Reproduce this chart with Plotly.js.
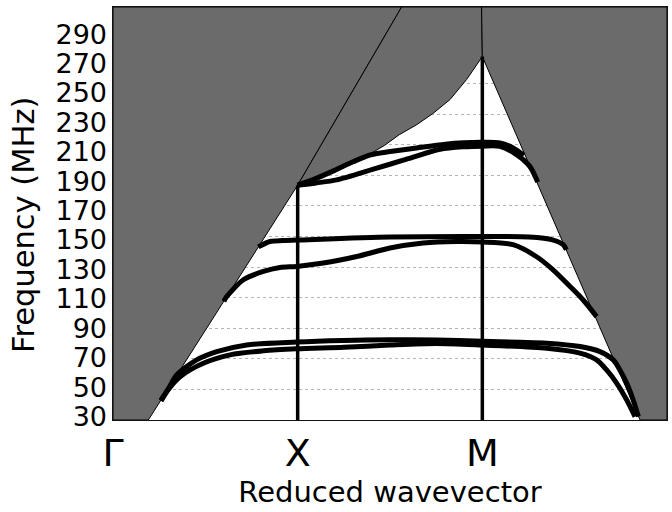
<!DOCTYPE html>
<html>
<head>
<meta charset="utf-8">
<script src="https://cdn.plot.ly/plotly-3.0.1.min.js"></script>
<style>
  html, body { margin: 0; padding: 0; background: #ffffff; }
  #chart { width: 672px; height: 512px; }
</style>
</head>
<body>
<div id="chart"></div>
<script>
// High-symmetry points along the path
const symLabels = ['\u0393', 'X', 'M', '\u0393'];
const symPos = [0, 1, 2, 3];
const symTopF = [183.5, 267.6];          // where the X and M markers meet the light cone

// Frequency tick labels (MHz)
const freqTicks = [30, 50, 70, 90, 110, 130, 150, 170, 190, 210, 230, 250, 270, 290];

// Light-cone regions (reduced wavevector, frequency)
const coneLeftK = [0, 0.191, 1.0, 1.563, 0, 0];
const coneLeftF = [30, 30, 183.5, 300, 300, 30];
const coneMidK = [1.0, 1.1, 1.2, 1.3, 1.39, 1.47, 1.55, 1.645, 1.734, 1.825, 1.915, 2.0, 1.996, 1.563, 1.0];
const coneMidF = [183.5, 188.3, 193.6, 199.2, 203.8, 209.5, 216.5, 223.1, 230.5, 239.5, 252.6, 267.6, 300, 300, 183.5];
const coneRightK = [2.0, 2.854, 3, 3, 1.996, 2.0];
const coneRightF = [267.6, 30, 30, 300, 300, 267.6];

// Guided bands
const bandAK = [0.26, 0.30, 0.345, 0.453, 0.562, 0.724, 0.995, 1.25, 1.5, 1.75, 2.0, 2.2, 2.349, 2.529, 2.637, 2.709, 2.745, 2.782, 2.817, 2.845];
const bandAF = [43, 50.5, 59.5, 69.3, 74.7, 79.1, 81.0, 82.0, 82.5, 82.3, 81.5, 80.8, 80.2, 78.0, 74.7, 69.3, 62.7, 54.0, 43.1, 32.2];

const bandBK = [0.26, 0.30, 0.363, 0.489, 0.634, 0.814, 0.995, 1.25, 1.5, 1.75, 2.0, 2.349, 2.529, 2.619, 2.673, 2.728, 2.782, 2.827];
const bandBF = [42.5, 50.0, 58.3, 67.1, 72.6, 75.2, 76.5, 77.5, 79.0, 80.0, 79.0, 76.9, 73.7, 69.3, 62.7, 54.0, 43.1, 32.2];

const bandCK = [0.6, 0.616, 0.706, 0.814, 0.904, 0.995, 1.139, 1.32, 1.5, 1.68, 1.861, 2.0, 2.166, 2.292, 2.383, 2.475, 2.545, 2.619];
const bandCF = [107.5, 110.7, 121.7, 127.1, 129.7, 130.4, 132.6, 136.9, 142.4, 145.7, 146.7, 146.4, 144.6, 136.9, 128.2, 117.3, 108.6, 97.6];

const bandDK = [0.787, 0.85, 0.92, 0.995, 1.5, 2.0, 2.253, 2.38, 2.438, 2.455];
const bandDF = [143.2, 146.7, 147.3, 147.6, 149.6, 150.0, 149.6, 147.8, 144.6, 141.3];

const bandEK = [1.0, 1.1, 1.2, 1.3, 1.39, 1.5, 1.65, 1.8, 1.9, 2.0, 2.095, 2.167, 2.225];
const bandEF = [183.5, 188.0, 193.2, 198.8, 203.2, 205.5, 208.0, 210.3, 211.2, 211.5, 211.1, 207.9, 203.0];

const bandFK = [1.0, 1.1, 1.211, 1.41, 1.59, 1.771, 1.9, 2.0, 2.095, 2.185, 2.257, 2.30];
const bandFF = [183.5, 185.0, 187.0, 194.0, 200.5, 207.0, 208.6, 209.0, 208.9, 203.5, 195.8, 185.5];

const coneFill = '#6b6b6b';
const ink = '#000000';

function cone(k, f) {
  return {
    x: k, y: f, type: 'scatter', mode: 'lines',
    fill: 'toself', fillcolor: coneFill,
    line: { color: ink, width: 1 },
    hoverinfo: 'skip', showlegend: false
  };
}

function band(k, f) {
  return {
    x: k, y: f, type: 'scatter', mode: 'lines',
    line: { color: ink, width: 5, shape: 'spline', smoothing: 0.8 },
    hoverinfo: 'skip', showlegend: false
  };
}

function marker(i) {
  return {
    x: [symPos[i], symPos[i]], y: [30, symTopF[i - 1]],
    type: 'scatter', mode: 'lines',
    line: { color: ink, width: 3.5 },
    hoverinfo: 'skip', showlegend: false
  };
}

// invisible trace so the label axis is drawn
const labelAxisTrace = {
  x: [0], y: [30], yaxis: 'y2', type: 'scatter', mode: 'markers',
  marker: { opacity: 0 }, hoverinfo: 'skip', showlegend: false
};

const data = [
  cone(coneLeftK, coneLeftF),
  cone(coneMidK, coneMidF),
  cone(coneRightK, coneRightF),
  band(bandAK, bandAF),
  band(bandBK, bandBF),
  band(bandCK, bandCF),
  band(bandDK, bandDF),
  band(bandEK, bandEF),
  band(bandFK, bandFF),
  marker(1),
  marker(2),
  labelAxisTrace
];

const fontFamily = 'DejaVu Sans, sans-serif';

const layout = {
  width: 672, height: 512,
  margin: { l: 113, r: 5, t: 7, b: 92 },
  paper_bgcolor: '#ffffff', plot_bgcolor: '#ffffff',
  showlegend: false,
  xaxis: {
    range: [0, 3],
    tickvals: symPos, ticktext: symLabels,
    tickfont: { family: fontFamily, size: 38, color: '#000' },
    ticks: '', ticklabelstandoff: -1,
    showgrid: false, zeroline: false,
    showline: true, mirror: true, linecolor: '#111', linewidth: 1.2,
    title: { text: 'Reduced wavevector', font: { family: fontFamily, size: 29, color: '#000' }, standoff: 0 }
  },
  yaxis: {
    range: [30, 300],
    tickvals: freqTicks, showticklabels: false, ticks: '',
    showgrid: true, gridcolor: '#b5b5b5', griddash: 'dot', gridwidth: 1,
    zeroline: false,
    showline: true, mirror: true, linecolor: '#111', linewidth: 1.2
  },
  yaxis2: {
    overlaying: 'y', side: 'left',
    range: [27.6, 308.5],
    tickvals: freqTicks,
    tickfont: { family: fontFamily, size: 27, color: '#000' },
    ticks: '', ticklabelstandoff: 5,
    showgrid: false, zeroline: false, showline: false
  },
  annotations: [{
    text: 'Frequency (MHz)', textangle: -90,
    xref: 'paper', yref: 'paper', x: -0.162, y: 0.473,
    xanchor: 'center', yanchor: 'middle', showarrow: false,
    font: { family: fontFamily, size: 30.5, color: '#000' }
  }]
};

Plotly.newPlot('chart', data, layout, { staticPlot: true, displayModeBar: false });
</script>
</body>
</html>
